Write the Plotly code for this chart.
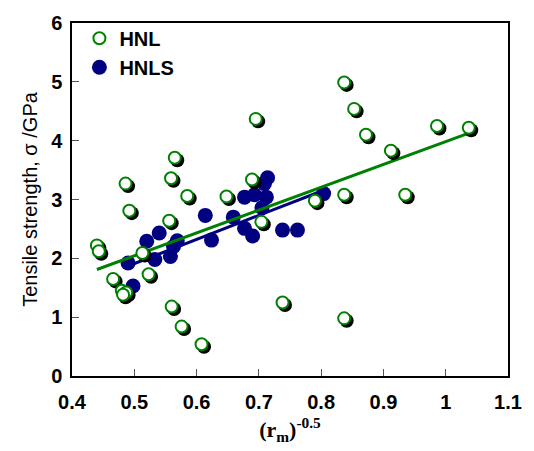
import plotly.graph_objects as go

# ---- data ----
hnl_x = [0.440, 0.443, 0.486, 0.492, 0.466, 0.480, 0.487, 0.482, 0.513, 0.523,
         0.565, 0.559, 0.585, 0.648, 0.556, 0.560, 0.576, 0.608, 0.689, 0.704,
         0.790, 0.695, 0.738, 0.837, 0.853, 0.872, 0.912, 0.986, 1.037, 0.837,
         0.935, 0.837]
hnl_y = [2.22, 2.12, 3.27, 2.81, 1.65, 1.45, 1.42, 1.38, 2.09, 1.73,
         3.71, 3.36, 3.06, 3.05, 2.64, 1.18, 0.84, 0.54, 3.34, 2.62,
         2.98, 4.37, 1.25, 4.99, 4.54, 4.10, 3.83, 4.25, 4.22, 3.08,
         3.08, 0.98]

hnls_x = [0.490, 0.498, 0.520, 0.540, 0.533, 0.558, 0.563, 0.569, 0.614, 0.624,
          0.659, 0.677, 0.690, 0.677, 0.693, 0.712, 0.714, 0.709, 0.705, 0.738,
          0.762, 0.804]
hnls_y = [1.92, 1.53, 2.29, 2.43, 1.98, 2.03, 2.20, 2.30, 2.73, 2.31,
          2.70, 2.51, 2.38, 3.04, 3.08, 3.04, 3.37, 3.27, 2.86, 2.48,
          2.48, 3.10]

hnl_fit_x = [0.440, 1.035]
hnl_fit_y = [1.81, 4.12]
hnls_fit_x = [0.490, 0.800]
hnls_fit_y = [1.87, 3.14]

x_range = [0.4, 1.1]
y_range = [0, 6]
x_ticks = [0.4, 0.5, 0.6, 0.7, 0.8, 0.9, 1.0, 1.1]
x_ticklabels = ["0.4", "0.5", "0.6", "0.7", "0.8", "0.9", "1", "1.1"]
y_ticks = [0, 1, 2, 3, 4, 5, 6]

GREEN = "#008000"
NAVY = "#000080"

W, H = 534, 451
ML, MR, MT, MB = 72, 21, 19, 75
plot_w = W - ML - MR
plot_h = H - MT - MB
# shadow offset in pixels (right, down) converted to axis units
sh_px = 2.5
dxu = sh_px * (x_range[1] - x_range[0]) / plot_w
dyu = sh_px * (y_range[1] - y_range[0]) / plot_h

fig = go.Figure()

fig.add_trace(go.Scatter(
    x=hnls_x, y=hnls_y, mode="markers", name="HNLS",
    marker=dict(symbol="circle", size=15, color=NAVY, line=dict(width=0)),
    xaxis="x", yaxis="y", legendgroup="b", legendrank=2))

fig.add_trace(go.Scatter(
    x=hnls_fit_x, y=hnls_fit_y, mode="lines", showlegend=False,
    line=dict(color=NAVY, width=3), xaxis="x", yaxis="y"))
fig.add_trace(go.Scatter(
    x=hnl_fit_x, y=hnl_fit_y, mode="lines", showlegend=False,
    line=dict(color=GREEN, width=3), xaxis="x", yaxis="y"))

# shadow of open markers
fig.add_trace(go.Scatter(
    x=hnl_x, y=hnl_y, mode="markers", showlegend=False, hoverinfo="skip",
    marker=dict(symbol="circle", size=14, color="black", line=dict(width=0)),
    xaxis="x2", yaxis="y2"))

fig.add_trace(go.Scatter(
    x=hnl_x, y=hnl_y, mode="markers", name="HNL",
    marker=dict(symbol="circle", size=12, color="white",
                line=dict(color=GREEN, width=2)),
    xaxis="x3", yaxis="y3", legendgroup="a", legendrank=1))

axis_common = dict(showgrid=False, zeroline=False)
tickfont = dict(family="Liberation Sans", size=20, color="black", weight="bold")

fig.update_layout(
    width=W, height=H,
    margin=dict(l=ML, r=MR, t=MT, b=MB),
    plot_bgcolor="white", paper_bgcolor="white",
    xaxis=dict(range=x_range, tickvals=x_ticks, ticktext=x_ticklabels,
               ticks="inside", ticklen=7, tickwidth=1, tickcolor="#555555",
               showline=True, linecolor="black", linewidth=1.5, mirror=True,
               tickfont=tickfont, ticklabelstandoff=7,
               title=dict(text="<b>(r<sub>m</sub>)<sup>-0.5</sup></b>",
                          font=dict(family="Liberation Serif", size=22, color="black"),
                          standoff=10),
               **axis_common),
    yaxis=dict(range=y_range, tickvals=y_ticks,
               ticks="inside", ticklen=7, tickwidth=1, tickcolor="#555555",
               showline=True, linecolor="black", linewidth=1.5, mirror=True,
               tickfont=tickfont, ticklabelstandoff=4,
               title=dict(text="Tensile strength, σ /GPa",
                          font=dict(family="Liberation Sans", size=20, color="black"),
                          standoff=8),
               **axis_common),
    xaxis2=dict(range=[x_range[0] - dxu, x_range[1] - dxu], overlaying="x",
                visible=False, **axis_common),
    yaxis2=dict(range=[y_range[0] + dyu, y_range[1] + dyu], overlaying="y",
                visible=False, **axis_common),
    xaxis3=dict(range=x_range, overlaying="x", visible=False, **axis_common),
    yaxis3=dict(range=y_range, overlaying="y", visible=False, **axis_common),
    legend=dict(x=0.017, y=1.012, xanchor="left", yanchor="top",
                bgcolor="rgba(0,0,0,0)", borderwidth=0,
                font=dict(family="Liberation Sans", size=20, color="black", weight="bold"),
                traceorder="grouped", tracegroupgap=0, itemwidth=30),
    showlegend=True,
)

fig.write_html("out.html")
